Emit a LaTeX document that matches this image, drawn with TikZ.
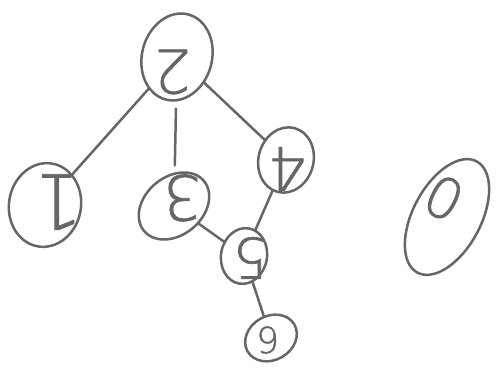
\documentclass[tikz,border=0pt]{standalone}
\usepackage{fontspec}
\newfontfamily\handfont[FakeBold=1.2]{DejaVu Sans ExtraLight}
\usetikzlibrary{shapes.geometric}
\begin{document}
\begin{tikzpicture}[x=1pt,y=1pt,
  pen/.style={draw=black!60, line width=2.5pt, line cap=round},
  vtx/.style={pen, ellipse, inner sep=0pt},
  lbl/.style={text=black!60, inner sep=0pt, font=\handfont\fontsize{#1}{#1}\selectfont},
  edge/.style={pen}]
\useasboundingbox (0,0) rectangle (499,371);
% vertex outlines
\node[vtx, rotate=75, minimum width=88, minimum height=70] (n2) at (177,314) {};
\node[vtx, rotate=80, minimum width=84, minimum height=72] (n1) at (45,166) {};
\node[vtx, rotate=40, minimum width=78, minimum height=58] (n3) at (174,165) {};
\node[vtx, rotate=75, minimum width=66, minimum height=55] (n4) at (286,211) {};
\node[vtx, rotate=80, minimum width=56, minimum height=46] (n5) at (244,115) {};
\node[vtx, rotate=30, minimum width=54, minimum height=44] (n6) at (271,33) {};
\node[vtx, rotate=62, minimum width=126, minimum height=68] (n0) at (447,154) {};
% vertex labels, written upside down
\node[lbl=60, rotate=180] (t2) at (172,299) {2};
\node[lbl=76, rotate=180] (t1) at (58,169) {1};
\node[lbl=62, rotate=180] (t3) at (182,173) {3};
\node[lbl=60, rotate=180] (t4) at (287,202) {4};
\node[lbl=56, rotate=180] (t5) at (250,113) {5};
\node[lbl=36, rotate=180] (t6) at (268,31) {6};
\node[lbl=56, rotate=-27] (t0) at (444,173) {0};
% edges
\draw[edge] (n2) -- (n1);
\draw[edge, shorten >=7pt, shorten <=7pt] (n2) -- (n3);
\draw[edge] (n2) -- (n4);
\draw[edge] (n3) -- (n5);
\draw[edge] (n4) -- (n5);
\draw[edge] (n5) -- (n6);
\end{tikzpicture}
\end{document}
